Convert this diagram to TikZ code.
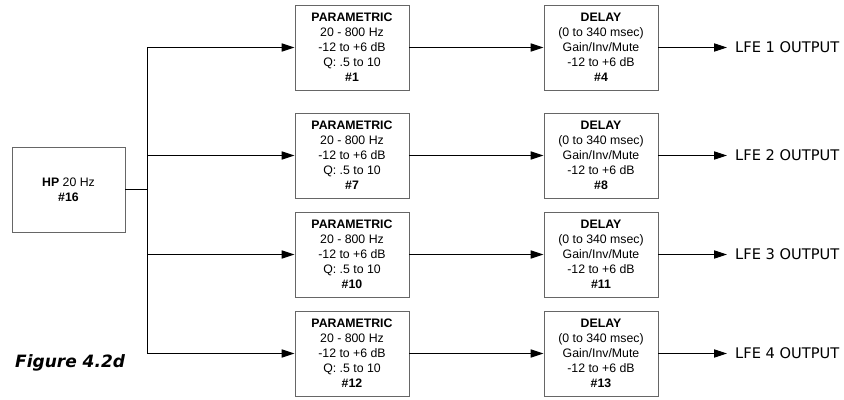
\documentclass[tikz,border=0pt]{standalone}
\usepackage{fontspec}
\setmainfont{Liberation Sans}
\newfontfamily\outfont{DejaVu Sans}
\usetikzlibrary{arrows.meta}
\tikzset{
  block/.style={draw=black!60,line width=0.8pt,minimum width=3.42cm,minimum height=2.55cm,
    inner sep=0pt,align=center,font=\fontsize{10.5}{12.8}\selectfont},
  outlabel/.style={inner sep=0pt,font=\outfont\fontsize{12.5}{14}\selectfont},
  wire/.style={line width=0.8pt}
}
\begin{document}
\begin{tikzpicture}[x=0.03cm,y=-0.03cm,>={Triangle[length=11pt,width=7pt]}]
\useasboundingbox (0,0) rectangle (844,400);
\node[block,minimum width=3.39cm] (hp) at (68.5,189.5) {\textbf{HP} 20 Hz\\\textbf{\#16}};
\foreach \ry/\p/\d/\n in {47.5/1/4/1,155.5/7/8/2,254.5/10/11/3,353.5/12/13/4} {
  \node[block] (par\n) at (352,\ry) {\textbf{PARAMETRIC}\\20 - 800 Hz\\-12 to +6 dB\\Q: .5 to 10\\\textbf{\#\p}};
  \node[block] (del\n) at (601,\ry) {\textbf{DELAY}\\(0 to 340 msec)\\Gain/Inv/Mute\\-12 to +6 dB\\\textbf{\#\d}};
  \coordinate (tap\n) at (147,\ry);
  \coordinate (out\n) at (727,\ry);
  \node[outlabel,anchor=west] (lbl\n) at (735,\ry) {LFE \n\ OUTPUT};
  \draw[wire,->] (tap\n) -- (par\n);
  \draw[wire,->] (par\n) -- (del\n);
  \draw[wire,->] (del\n) -- (out\n);
}
\draw[wire] (hp.east) -- (hp.east -| tap1);
\draw[wire] (tap1) -- (tap4);
\node[anchor=base west,inner sep=0pt] (fig) at (15,367) {\outfont\fontsize{14.5}{16}\selectfont\bfseries\itshape Figure 4.2d};
\end{tikzpicture}
\end{document}
